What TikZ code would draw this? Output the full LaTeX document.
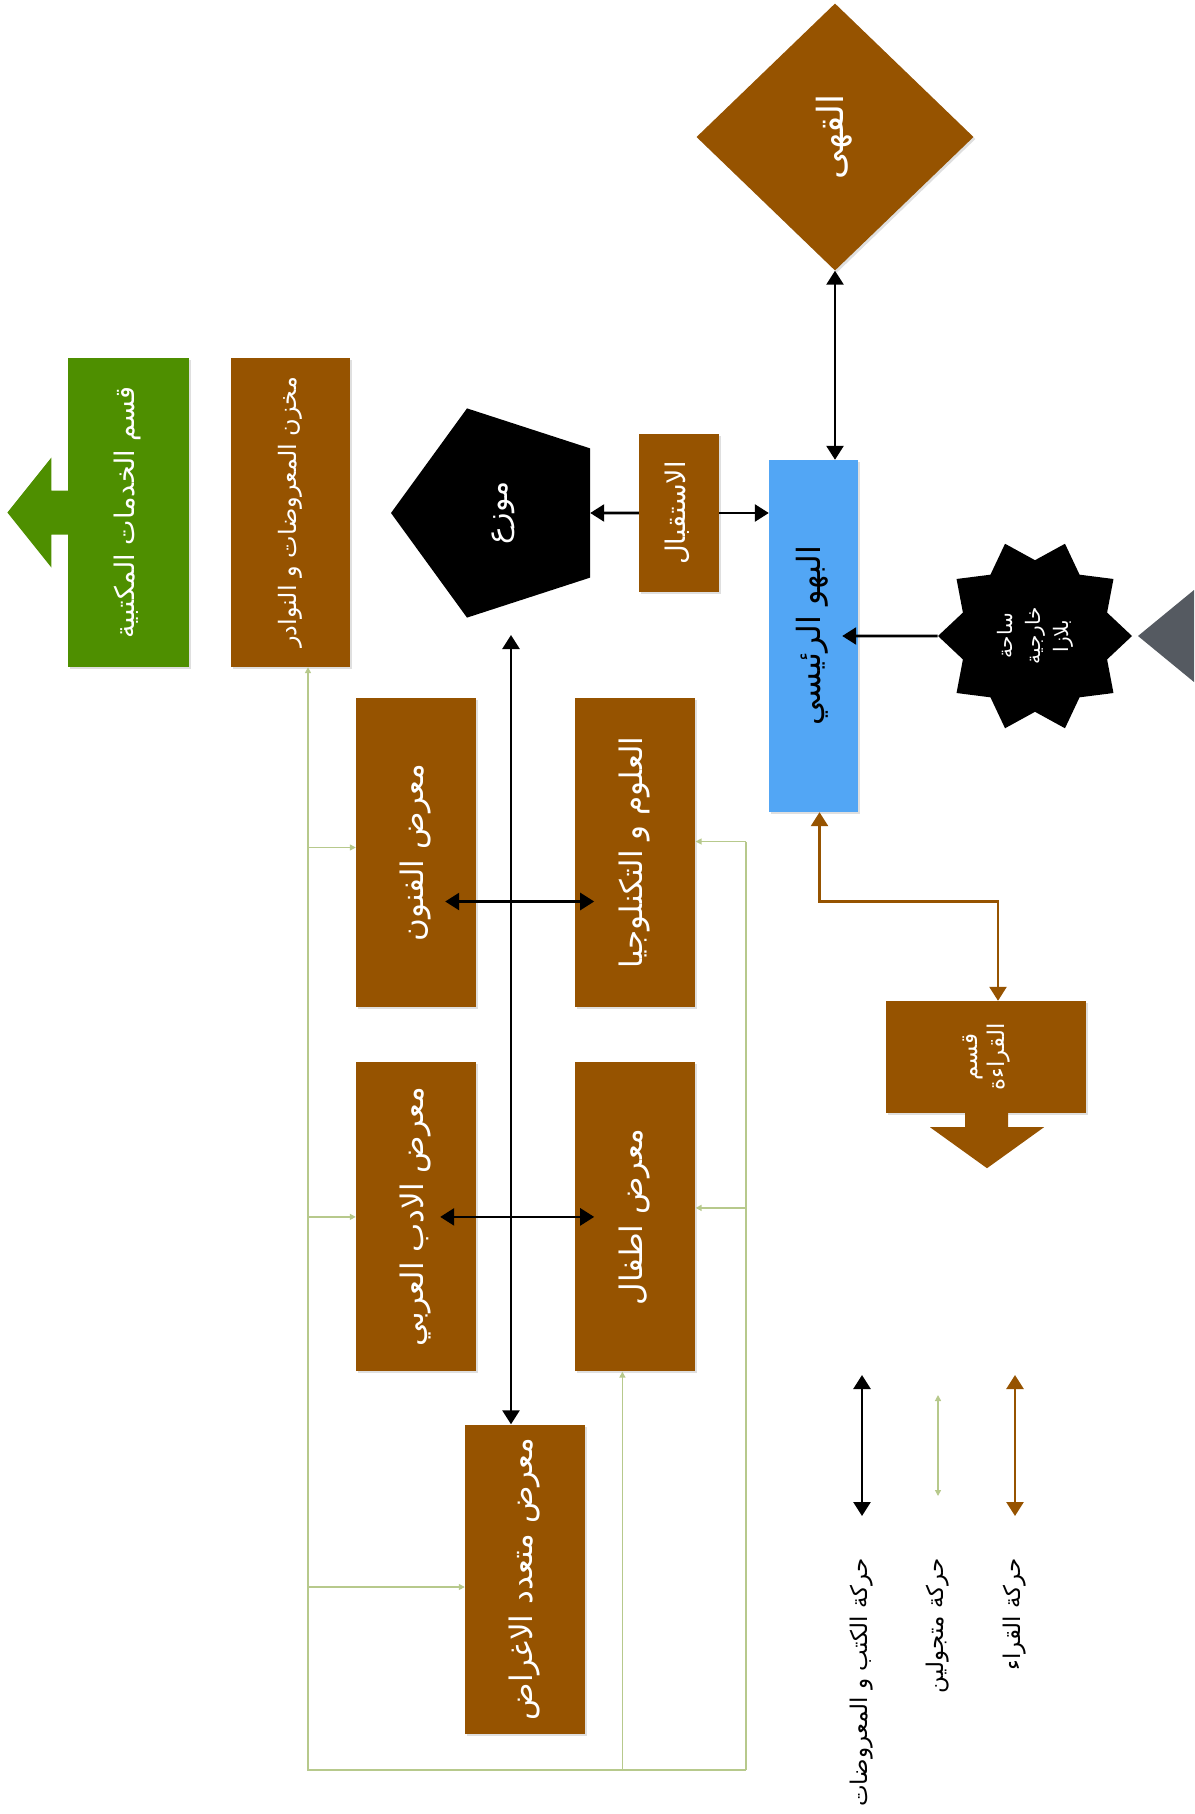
\documentclass[tikz,border=0pt]{standalone}
\usepackage{fontspec}
\usepackage{graphicx}
\usetikzlibrary{shapes.geometric,arrows.meta,positioning,shadows}
\TeXXeTstate=1
\newfontfamily\arabicfont[Script=Arabic]{DejaVu Sans}
\definecolor{hallbrown}{RGB}{150,83,0}
\definecolor{lobbyblue}{RGB}{82,166,245}
\definecolor{servgreen}{RGB}{78,143,0}
\definecolor{visitgreen}{RGB}{183,201,140}
\definecolor{plazagray}{RGB}{85,90,97}
\newcommand{\artxt}[1]{\beginR #1\endR}
\newcommand{\vtxt}[1]{\rotatebox{90}{\begin{tabular}{@{}c@{}}#1\end{tabular}}}

\begin{document}
\begin{tikzpicture}[
    x=1pt, y=-1pt,
    softshadow/.style={drop shadow={shadow xshift=2pt, shadow yshift=-2pt, opacity=0.25}},
    hallbox/.style={rectangle, fill=hallbrown, text=white, minimum width=120pt, minimum height=309pt, inner sep=0pt, font=\arabicfont\fontsize{31}{36}\selectfont, softshadow},
    bookline/.style={draw=black, line width=2.6pt, >={Triangle[length=14pt,width=17pt]}},
    visitline/.style={draw=visitgreen, line width=1.3pt, >={Triangle[length=6pt,width=6pt]}},
    readline/.style={draw=hallbrown, line width=2.6pt, >={Triangle[length=14pt,width=17pt]}},
    keytext/.style={anchor=north, inner sep=0pt, text=black, font=\arabicfont\fontsize{23}{27}\selectfont}
]
\useasboundingbox (0,0) rectangle (1194,1814);

\node[diamond, fill=hallbrown, text=white, minimum width=277pt, minimum height=267pt, inner sep=0pt, softshadow, font=\arabicfont\fontsize{36}{40}\selectfont] (cafe) at (835,137) {\vtxt{\artxt{القهى}}};
\node[rectangle, fill=lobbyblue, text=black, minimum width=89pt, minimum height=352pt, inner sep=0pt, softshadow, font=\arabicfont\fontsize{32}{36}\selectfont] (lobby) at (813.5,636) {\vtxt{\artxt{البهو الرئيسي}}};
\node[hallbox, minimum width=80pt, minimum height=158pt, font=\arabicfont\fontsize{27}{31}\selectfont] (reception) at (679,513) {\vtxt{\artxt{الاستقبال}}};
\node[regular polygon, regular polygon sides=5, shape border rotate=90, minimum size=220pt, inner sep=0pt, fill=black, text=white, font=\arabicfont\fontsize{30}{34}\selectfont] (dist) at (501,513) {\vtxt{\artxt{موزع}}};
\node[star, star points=10, star point ratio=1.28, shape border rotate=90, minimum size=194pt, inner sep=0pt, fill=black, text=white, font=\arabicfont\fontsize{20}{28}\selectfont] (plaza) at (1035,636) {\vtxt{\artxt{ساحة}\\\artxt{خارجية}\\\artxt{بلازا}}};
\fill[plazagray] (1138,636) -- (1194,590) -- (1194,682) -- cycle;

\node[hallbox, minimum width=119pt, font=\arabicfont\fontsize{24}{28}\selectfont] (storage) at (290.5,512.5) {\vtxt{\artxt{مخزن المعروضات و النوادر}}};
\node[hallbox, fill=servgreen, minimum width=121pt, left=42pt of storage, font=\arabicfont\fontsize{27}{31}\selectfont] (services) {\vtxt{\artxt{قسم الخدمات المكتبية}}};
\fill[servgreen, shift={(services.west)}] (12,-22) -- (-16,-22) -- (-16,-55) -- (-60,0) -- (-16,55) -- (-16,22) -- (12,22) -- cycle;

\node[hallbox] (arts) at (416,852.5) {\vtxt{\artxt{معرض الفنون}}};
\node[hallbox, right=99pt of arts] (science) {\vtxt{\artxt{العلوم و التكنلوجيا}}};
\node[hallbox, below=55pt of arts] (arabic) {\vtxt{\artxt{معرض الادب العربي}}};
\node[hallbox, right=99pt of arabic] (children) {\vtxt{\artxt{معرض اطفال}}};
\node[hallbox] (multi) at (525,1579) {\vtxt{\artxt{معرض متعدد الاغراض}}};

\node[hallbox, minimum width=200pt, minimum height=112pt, font=\arabicfont\fontsize{23}{27}\selectfont] (reading) at (986,1057) {\vtxt{\artxt{قسم}\\\artxt{القراءة}}};
\fill[hallbrown, shift={(reading.south)}] (-21,-13) -- (22,-13) -- (22,14) -- (58,14) -- (1,55) -- (-56,14) -- (-21,14) -- cycle;

\coordinate (lobbyin) at ([xshift=-16pt]lobby.east);
\coordinate (spine) at ([xshift=10pt,yshift=-122pt]dist.center);
\draw[bookline, <->] (cafe.south) -- (cafe.south |- lobby.north);
\draw[bookline, ->] (reception.east) -- (reception.east -| lobby.west);
\draw[bookline, ->] (reception) -- (dist);
\draw[bookline, ->] (plaza) -- (plaza -| lobbyin);
\draw[bookline, <->] (spine) -- (spine |- multi.north);
\draw[bookline, <->] ([xshift=-31pt,yshift=-49pt]arts.east) -- ([xshift=19pt,yshift=-49pt]science.west);
\draw[bookline, <->] ([xshift=-36pt]arabic.east) -- ([xshift=19pt]children.west);

\coordinate (gl) at (308,1770);
\coordinate (gr) at (746,1770);
\coordinate (artsin) at ([yshift=5pt]arts.west);
\coordinate (multiin) at ([yshift=-8pt]multi.west);
\coordinate (sciin) at ([yshift=11pt]science.east);
\coordinate (kidin) at ([yshift=9pt]children.east);
\coordinate (kidup) at ([xshift=-13pt]children.south);
\draw[visitline, ->] (gr) -- (gl) -- (gl |- storage.south);
\draw[visitline] (gr) -- (gr |- sciin);
\draw[visitline, ->] (gl |- artsin) -- (artsin);
\draw[visitline, ->] (gl |- arabic.west) -- (arabic.west);
\draw[visitline, ->] (gl |- multiin) -- (multiin);
\draw[visitline, ->] (sciin -| gr) -- (sciin);
\draw[visitline, ->] (kidin -| gr) -- (kidin);
\draw[visitline, ->] (kidup |- gl) -- (kidup);

\coordinate (readin) at ([xshift=12pt]reading.north);
\draw[readline, <->] ([xshift=6pt]lobby.south) -- ++(0,89) -| (readin);

\node[keytext] (keybook) at (862,1558) {\vtxt{\artxt{حركة الكتب و المعروضات}}};
\node[keytext] (keyvisit) at (938,1558) {\vtxt{\artxt{حركة متجولين}}};
\node[keytext] (keyread) at (1015,1558) {\vtxt{\artxt{حركة القراء}}};
\draw[bookline, <->] ([yshift=42pt]keybook.north) -- ([yshift=183pt]keybook.north);
\draw[visitline, <->] ([yshift=62pt]keyvisit.north) -- ([yshift=163pt]keyvisit.north);
\draw[readline, <->] ([yshift=42pt]keyread.north) -- ([yshift=183pt]keyread.north);

\end{tikzpicture}
\end{document}
